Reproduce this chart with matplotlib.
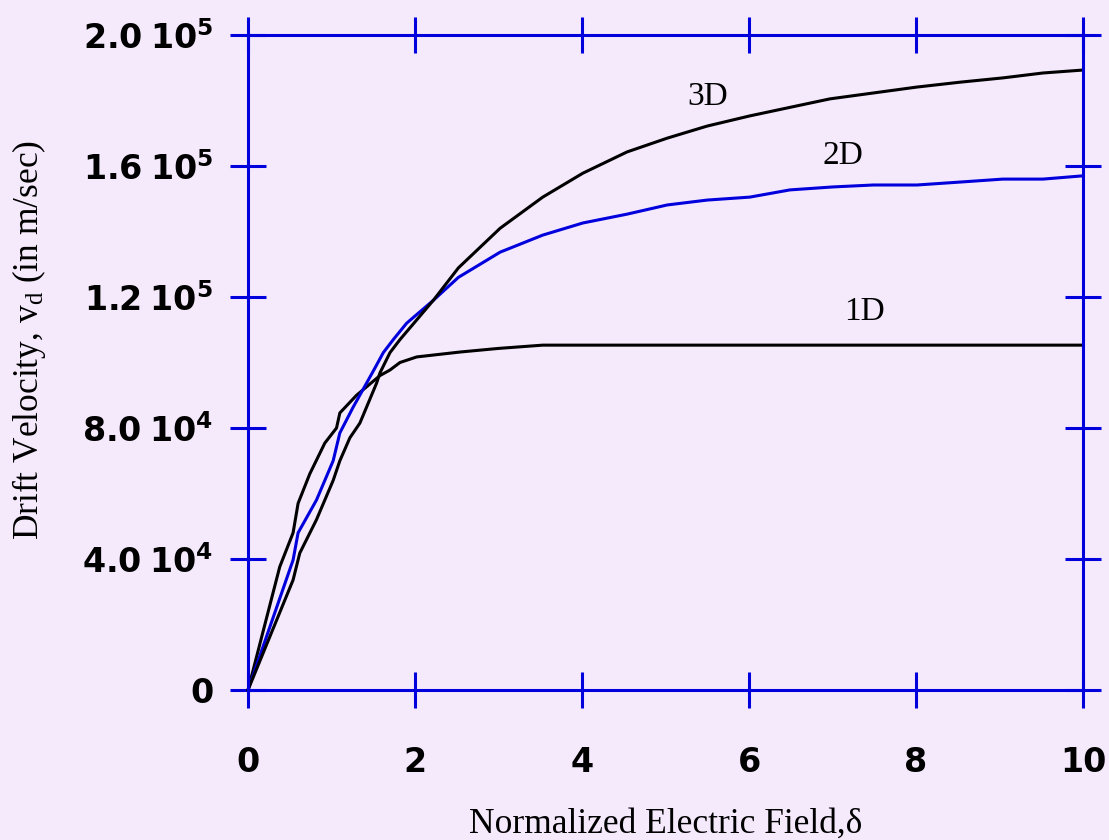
import numpy as np
import matplotlib
matplotlib.use('Agg')
import matplotlib.pyplot as plt

# drift velocity vs normalized field for 1D, 2D and 3D
field_1d = [0, 0.38, 0.54, 0.6, 0.74, 0.92, 1.06, 1.1, 1.3, 1.58, 1.7, 1.82, 2.02, 2.54, 3.0, 3.53, 4, 5, 6, 7, 8, 9, 10]
vel_1d = [0, 0.376e5, 0.48e5, 0.57e5, 0.66e5, 0.754e5, 0.80e5, 0.846e5, 0.90e5, 0.96e5, 0.977e5,
          1.0e5, 1.017e5, 1.032e5, 1.043e5, 1.053e5, 1.053e5, 1.053e5, 1.053e5, 1.053e5, 1.053e5, 1.053e5, 1.053e5]

field_2d = [0, 0.54, 0.6, 0.82, 1.02, 1.1, 1.26, 1.42, 1.52, 1.62, 1.74, 1.9, 2.22, 2.52, 3.02, 3.53,
            4.01, 4.54, 5.02, 5.5, 6.01, 6.49, 7.0, 7.49, 8.01, 8.53, 9.04, 9.52, 10]
vel_2d = [0, 0.397e5, 0.48e5, 0.58e5, 0.70e5, 0.785e5, 0.864e5, 0.937e5, 0.983e5, 1.03e5, 1.07e5,
          1.12e5, 1.19e5, 1.26e5, 1.337e5, 1.389e5, 1.426e5, 1.453e5, 1.481e5, 1.496e5, 1.505e5,
          1.527e5, 1.536e5, 1.542e5, 1.542e5, 1.551e5, 1.56e5, 1.56e5, 1.57e5]

field_3d = [0, 0.54, 0.62, 0.82, 1.02, 1.1, 1.22, 1.34, 1.44, 1.54, 1.58, 1.7, 1.82, 2.02, 2.22, 2.52,
            3.02, 3.53, 4.01, 4.54, 5.02, 5.5, 6.01, 6.97, 8.01, 8.53, 9.04, 9.52, 10]
vel_3d = [0, 0.336e5, 0.418e5, 0.52e5, 0.64e5, 0.70e5, 0.77e5, 0.815e5, 0.876e5, 0.937e5, 0.968e5,
          1.03e5, 1.07e5, 1.13e5, 1.19e5, 1.289e5, 1.41e5, 1.505e5, 1.578e5, 1.643e5, 1.685e5,
          1.722e5, 1.753e5, 1.805e5, 1.841e5, 1.856e5, 1.869e5, 1.884e5, 1.893e5]

x_ticks = [0, 2, 4, 6, 8, 10]
y_ticks = [0, 0.4e5, 0.8e5, 1.2e5, 1.6e5, 2.0e5]
y_tick_labels = [r'$\mathbf{0}$', r'$\mathbf{4.0\ 10^4}$', r'$\mathbf{8.0\ 10^4}$',
                 r'$\mathbf{1.2\ 10^5}$', r'$\mathbf{1.6\ 10^5}$', r'$\mathbf{2.0\ 10^5}$']

bg = '#F5EAFC'
blue = '#0000DD'

plt.rcParams['mathtext.fontset'] = 'custom'
plt.rcParams['mathtext.bf'] = 'DejaVu Sans:bold'
plt.rcParams['mathtext.rm'] = 'Liberation Serif'
plt.rcParams['mathtext.it'] = 'Liberation Serif:italic'

fig = plt.figure(figsize=(11.09, 8.4), dpi=100, facecolor=bg)
ax = fig.add_axes([248/1109, 150/840, 835/1109, 655/840])
ax.set_facecolor(bg)

ax.plot(field_1d, vel_1d, color='black', lw=2.2, clip_on=False)
ax.plot(field_2d, vel_2d, color=blue, lw=2.2, clip_on=False)
ax.plot(field_3d, vel_3d, color='black', lw=2.2, clip_on=False)

ax.set_xlim(0, 10)
ax.set_ylim(0, 2.0e5)
ax.set_xticks(x_ticks)
ax.set_xticklabels([str(t) for t in x_ticks], fontfamily='DejaVu Sans', fontweight='bold', fontsize=24)
ax.set_yticks(y_ticks)
ax.set_yticklabels(y_tick_labels, fontsize=24)

for s in ax.spines.values():
    s.set_color(blue)
    s.set_linewidth(2.2)
ax.tick_params(axis='both', direction='inout', length=26, width=2.2, color=blue,
               top=True, right=True, labelcolor='black')
ax.tick_params(axis='y', pad=12)
ax.tick_params(axis='x', pad=27)

ax.set_xlabel('Normalized Electric Field,δ', fontfamily='Liberation Serif', fontsize=25.5)
ax.xaxis.set_label_coords(0.5, -0.180)
ax.set_ylabel(r'Drift Velocity, $\mathrm{v_d}$ (in m/sec)', fontfamily='Liberation Serif', fontsize=25.5)
ax.yaxis.set_label_coords(-0.2395, 0.534)

ax.text(5.5, 1.81e5, '3D', fontfamily='Liberation Serif', fontsize=24, ha='center', va='center')
ax.text(7.12, 1.63e5, '2D', fontfamily='Liberation Serif', fontsize=24, ha='center', va='center')
ax.text(7.38, 1.155e5, '1D', fontfamily='Liberation Serif', fontsize=24, ha='center', va='center')

fig.savefig('out.png', dpi=100, facecolor=bg)
